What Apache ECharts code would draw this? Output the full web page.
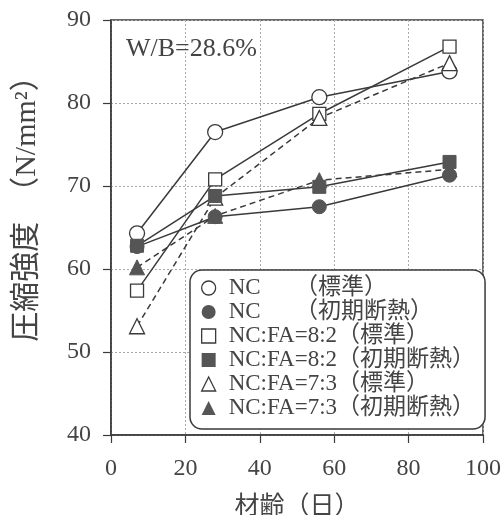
<!DOCTYPE html>
<html>
<head>
<meta charset="utf-8">
<script src="https://cdn.jsdelivr.net/npm/echarts@6/dist/echarts.min.js"></script>
<style>
html,body{margin:0;padding:0;background:#fff;}
#chart{width:504px;height:515px;}
</style>
</head>
<body>
<div id="chart"></div>
<script>
// ---- data ----
const days = [7, 28, 56, 91];
const ncStd = [64.3, 76.5, 80.7, 83.8];
const ncInit = [62.7, 66.3, 67.5, 71.3];
const fa82Std = [57.4, 70.8, 78.7, 86.8];
const fa82Init = [62.8, 68.8, 69.9, 72.9];
const fa73Std = [53.1, 68.6, 78.2, 84.8];
const fa73Init = [60.2, 66.4, 70.7, 72.0];
const seriesNames = [
  'NC\u3000\u3000（標準）',
  'NC\u3000\u3000（初期断熱）',
  'NC:FA=8:2（標準）',
  'NC:FA=8:2（初期断熱）',
  'NC:FA=7:3（標準）',
  'NC:FA=7:3（初期断熱）'
];
const xTicks = [0, 20, 40, 60, 80, 100];
const yTicks = [40, 50, 60, 70, 80, 90];
const annotation = 'W/B=28.6%';
const xName = '材齢（日）';
const yName = '圧縮強度\u3000（N/mm²）';

const serif = '"Liberation Serif","DejaVu Serif","Noto Sans CJK JP",serif';
const ink = '#3a3a3a';
const textInk = '#444';
const fill = '#555';

function pts(vals){ return days.map((d,i)=>[d, vals[i]]); }

const defs = [
  {vals: ncStd,   symbol:'circle',   size:15, open:true,  dash:false},
  {vals: ncInit,  symbol:'circle',   size:14, open:false, dash:false},
  {vals: fa82Std, symbol:'rect',     size:13, open:true,  dash:false},
  {vals: fa82Init,symbol:'rect',     size:13, open:false, dash:false},
  {vals: fa73Std, symbol:'triangle', size:15, open:true,  dash:true},
  {vals: fa73Init,symbol:'triangle', size:15, open:false, dash:true}
];

const series = defs.map((d,i)=>({
  name: seriesNames[i],
  type: 'line',
  data: pts(d.vals),
  symbol: d.symbol,
  symbolSize: d.size,
  z: d.open ? 3 : 4,
  itemStyle: d.open ? {color:'#fff', borderColor: ink, borderWidth:1.3}
                    : {color: fill, borderColor: fill, borderWidth:1},
  lineStyle: {color: ink, width:1.5, type: d.dash ? [6,4] : 'solid'},
  emphasis: {disabled: true},
  animation: false
}));

const chart = echarts.init(document.getElementById('chart'));
chart.setOption({
  backgroundColor: '#fff',
  animation: false,
  title: {
    text: annotation,
    left: 121, top: 31,
    textStyle: {fontFamily: serif, fontSize: 26, fontWeight: 'normal', color: textInk}
  },
  grid: {left: 111, top: 20, right: 21, bottom: 80, show: true, borderColor: ink, borderWidth: 1.5,
    backgroundColor: 'transparent', containLabel: false, outerBoundsMode: 'none'},
  legend: {
    orient: 'vertical',
    left: 190, top: 270,
    padding: [6, 10, 9, 11],
    itemWidth: 14, itemHeight: 14,
    itemGap: 0,
    borderColor: ink, borderWidth: 1.5, borderRadius: 12,
    backgroundColor: '#fff',
    textStyle: {fontFamily: serif, fontSize: 23, color: textInk, lineHeight: 24, padding: [0,0,0,8]},
    data: seriesNames.map((n,i)=>({
      name: n,
      icon: defs[i].symbol,
      itemStyle: defs[i].open ? {color:'#fff', borderColor: ink, borderWidth:1.3} : {color: fill, borderColor: fill, borderWidth: 0}
    })),
    selectedMode: false
  },
  xAxis: {
    type: 'value', min: 0, max: 100, interval: 20,
    name: xName, nameLocation: 'middle', nameGap: 60,
    nameTextStyle: {fontFamily: serif, fontSize: 25, color: textInk},
    axisLine: {show: true, lineStyle: {color: ink, width: 1.5}},
    axisTick: {show: true, inside: false, length: 8, lineStyle: {color: ink, width: 1.2}},
    axisLabel: {fontFamily: serif, fontSize: 24, color: textInk, margin: 22,
      formatter: v => xTicks.includes(v) ? String(v) : ''},
    splitLine: {show: true, lineStyle: {color: '#aaa', type: [2,2], width: 1}}
  },
  yAxis: {
    type: 'value', min: 40, max: 90, interval: 10,
    name: yName, nameLocation: 'middle', nameGap: 69, nameRotate: 90,
    nameTextStyle: {fontFamily: serif, fontSize: 30, color: textInk, padding: [0, 0, 0, 52]},
    axisLine: {show: true, lineStyle: {color: ink, width: 1.5}},
    axisTick: {show: true, inside: false, length: 8, lineStyle: {color: ink, width: 1.2}},
    axisLabel: {fontFamily: serif, fontSize: 24, color: textInk, margin: 20,
      formatter: v => yTicks.includes(v) ? String(v) : ''},
    splitLine: {show: true, lineStyle: {color: '#aaa', type: [2,2], width: 1}}
  },
  series: series
});
</script>
</body>
</html>
